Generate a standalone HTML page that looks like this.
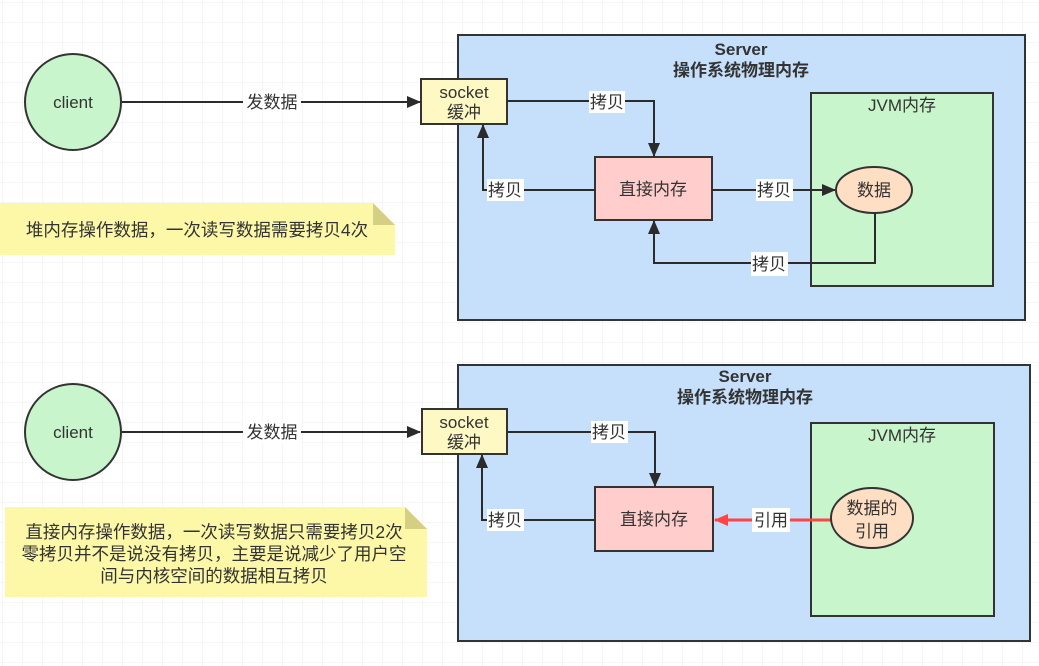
<!DOCTYPE html>
<html><head><meta charset="utf-8"><style>
html,body{margin:0;padding:0;width:1039px;height:666px;overflow:hidden;background:#fff}
svg text{font-family:"Liberation Sans","Noto Sans CJK SC",sans-serif;fill:#333}
</style></head><body>
<svg width="1039" height="666" xmlns="http://www.w3.org/2000/svg">
<defs>
<pattern id="g" width="20" height="20" patternUnits="userSpaceOnUse" x="2" y="2">
<path d="M20 0H0V20" fill="none" stroke="#ececec" stroke-width="1"/>
</pattern>
<marker id="a" markerWidth="14" markerHeight="14" refX="13" refY="7" orient="auto" markerUnits="userSpaceOnUse"><path d="M0 1L14 7L0 13z" fill="#2b2b2b"/></marker>
<marker id="ar" markerWidth="14" markerHeight="14" refX="13" refY="7" orient="auto" markerUnits="userSpaceOnUse"><path d="M0 1L14 7L0 13z" fill="#f44"/></marker>
</defs>
<rect width="1039" height="666" fill="url(#g)"/>

<!-- TOP -->
<rect x="458" y="35" width="567" height="285" fill="#c6e0fb" stroke="#333" stroke-width="2"/>
<text x="741" y="55" text-anchor="middle" font-size="17" font-weight="bold">Server</text>
<text x="741" y="76" text-anchor="middle" font-size="17" font-weight="bold">操作系统物理内存</text>
<rect x="811" y="93" width="182" height="193" fill="#c8f5cb" stroke="#333" stroke-width="2"/>
<text x="902" y="111" text-anchor="middle" font-size="17">JVM内存</text>

<circle cx="73" cy="102" r="48" fill="#c8f5cb" stroke="#333" stroke-width="2"/>
<text x="73" y="108" text-anchor="middle" font-size="17">client</text>
<line x1="122" y1="102" x2="420" y2="102" stroke="#2b2b2b" stroke-width="2" marker-end="url(#a)"/>
<rect x="243" y="91" width="58" height="22" fill="#fff"/>
<text x="272" y="108" text-anchor="middle" font-size="17">发数据</text>

<rect x="421" y="79" width="86" height="45" fill="#fdf8c4" stroke="#333" stroke-width="2"/>
<text x="464" y="98" text-anchor="middle" font-size="17">socket</text>
<text x="464" y="118" text-anchor="middle" font-size="17">缓冲</text>

<rect x="595" y="157" width="117" height="63" fill="#ffcecc" stroke="#333" stroke-width="2"/>
<text x="653" y="195" text-anchor="middle" font-size="17">直接内存</text>

<polyline points="507,101 654,101 654,156" fill="none" stroke="#2b2b2b" stroke-width="2" marker-end="url(#a)"/>
<rect x="589" y="91" width="36" height="22" fill="#fff"/><text x="607" y="108" text-anchor="middle" font-size="17">拷贝</text>
<polyline points="595,190 483,190 483,125" fill="none" stroke="#2b2b2b" stroke-width="2" marker-end="url(#a)"/>
<rect x="487" y="179" width="37" height="22" fill="#fff"/><text x="505" y="196" text-anchor="middle" font-size="17">拷贝</text>
<line x1="712" y1="190" x2="835" y2="190" stroke="#2b2b2b" stroke-width="2" marker-end="url(#a)"/>
<rect x="756" y="179" width="37" height="22" fill="#fff"/><text x="774" y="196" text-anchor="middle" font-size="17">拷贝</text>
<ellipse cx="874" cy="190" rx="38" ry="23" fill="#ffdfc3" stroke="#333" stroke-width="2"/>
<text x="874" y="196" text-anchor="middle" font-size="17">数据</text>
<polyline points="875,213 875,263 654,263 654,221" fill="none" stroke="#2b2b2b" stroke-width="2" marker-end="url(#a)"/>
<rect x="751" y="252" width="37" height="24" fill="#fff"/><text x="769" y="270" text-anchor="middle" font-size="17">拷贝</text>

<path d="M0 203H373L395 225V255H0Z" fill="#fdf8a8"/>
<path d="M373 203V225H395Z" fill="#d4cf82"/>
<text x="197" y="236" text-anchor="middle" font-size="17.5">堆内存操作数据，一次读写数据需要拷贝4次</text>

<!-- BOTTOM -->
<rect x="458" y="365" width="572" height="276" fill="#c6e0fb" stroke="#333" stroke-width="2"/>
<text x="745" y="382" text-anchor="middle" font-size="17" font-weight="bold">Server</text>
<text x="745" y="403" text-anchor="middle" font-size="17" font-weight="bold">操作系统物理内存</text>
<rect x="811" y="423" width="183" height="193" fill="#c8f5cb" stroke="#333" stroke-width="2"/>
<text x="902" y="441" text-anchor="middle" font-size="17">JVM内存</text>

<circle cx="73" cy="432" r="48" fill="#c8f5cb" stroke="#333" stroke-width="2"/>
<text x="73" y="438" text-anchor="middle" font-size="17">client</text>
<line x1="122" y1="432" x2="420" y2="432" stroke="#2b2b2b" stroke-width="2" marker-end="url(#a)"/>
<rect x="243" y="421" width="58" height="22" fill="#fff"/>
<text x="272" y="438" text-anchor="middle" font-size="17">发数据</text>

<rect x="422" y="409" width="85" height="45" fill="#fdf8c4" stroke="#333" stroke-width="2"/>
<text x="464" y="428" text-anchor="middle" font-size="17">socket</text>
<text x="464" y="448" text-anchor="middle" font-size="17">缓冲</text>

<rect x="595" y="487" width="118" height="64" fill="#ffcecc" stroke="#333" stroke-width="2"/>
<text x="654" y="525" text-anchor="middle" font-size="17">直接内存</text>

<polyline points="507,432 655,432 655,486" fill="none" stroke="#2b2b2b" stroke-width="2" marker-end="url(#a)"/>
<rect x="591" y="421" width="37" height="22" fill="#fff"/><text x="609" y="438" text-anchor="middle" font-size="17">拷贝</text>
<polyline points="595,520 482,520 482,455" fill="none" stroke="#2b2b2b" stroke-width="2" marker-end="url(#a)"/>
<rect x="487" y="509" width="37" height="22" fill="#fff"/><text x="505" y="526" text-anchor="middle" font-size="17">拷贝</text>
<line x1="831" y1="520" x2="715" y2="520" stroke="#f44" stroke-width="3" marker-end="url(#ar)"/>
<rect x="752" y="508" width="38" height="24" fill="#fff"/><text x="771" y="526" text-anchor="middle" font-size="17">引用</text>
<ellipse cx="872" cy="518" rx="41" ry="30" fill="#ffdfc3" stroke="#333" stroke-width="2"/>
<text x="872" y="514" text-anchor="middle" font-size="17">数据的</text>
<text x="872" y="537" text-anchor="middle" font-size="17">引用</text>

<path d="M5 507H405L427 529V597H5Z" fill="#fdf8a8"/>
<path d="M405 507V529H427Z" fill="#d4cf82"/>
<text x="214" y="538" text-anchor="middle" font-size="17.5">直接内存操作数据，一次读写数据只需要拷贝2次</text>
<text x="214" y="560" text-anchor="middle" font-size="17.5">零拷贝并不是说没有拷贝，主要是说减少了用户空</text>
<text x="214" y="582" text-anchor="middle" font-size="17.5">间与内核空间的数据相互拷贝</text>
</svg>
</body></html>
